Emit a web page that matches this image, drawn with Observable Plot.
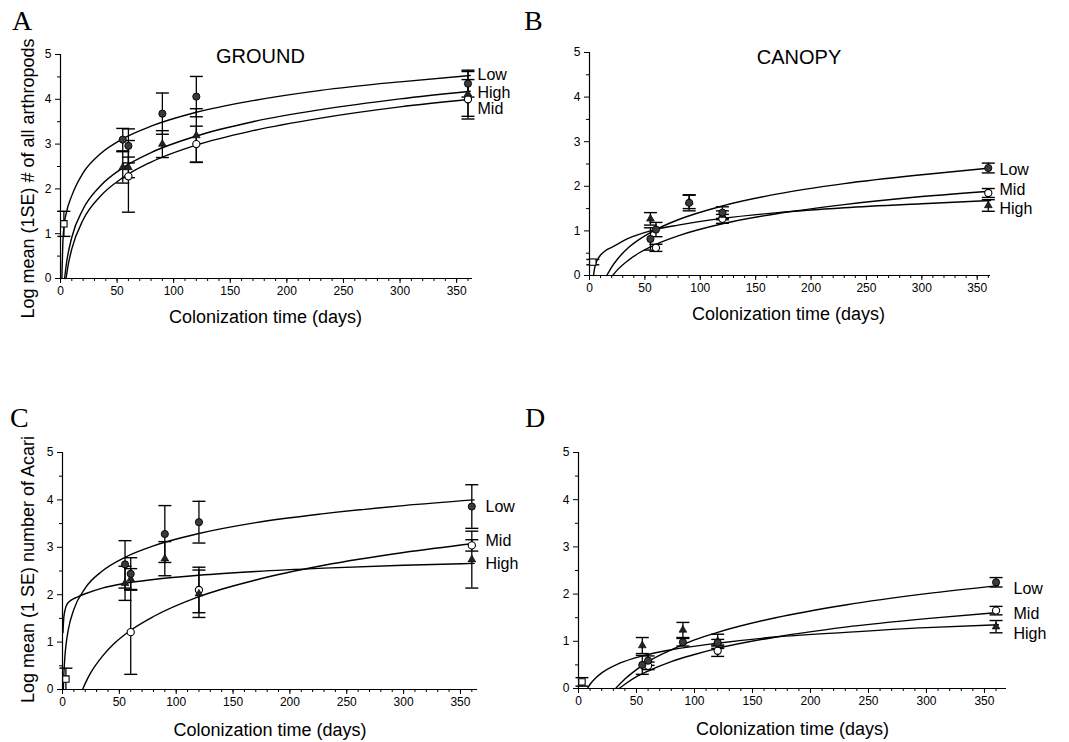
<!DOCTYPE html>
<html>
<head>
<meta charset="utf-8">
<script src="https://cdn.jsdelivr.net/npm/d3@7"></script>
<script src="https://cdn.jsdelivr.net/npm/@observablehq/plot@0.6"></script>
<style>
  body { margin: 0; background: #fff; }
  #root { position: relative; width: 1069px; height: 742px; overflow: hidden; background: #fff;
          font-family: "Liberation Sans", Arial, sans-serif; }
  .panel { position: absolute; }
  .letter { position: absolute; font-family: "Liberation Serif", "Times New Roman", serif;
            font-size: 28px; line-height: 28px; color: #000; }
</style>
</head>
<body>
<div id="root"></div>
<script>
// ---------------- data ----------------
const days = [55, 60, 90, 120, 360];
const startDay = 3;
const seriesNames = ["Low", "Mid", "High"];
const xTicks = [0, 50, 100, 150, 200, 250, 300, 350];
const xMinorTicks = [0, 10, 20, 30, 40, 50, 60, 70, 80, 90, 100, 110, 120, 130, 140, 150, 160, 170, 180,
  190, 200, 210, 220, 230, 240, 250, 260, 270, 280, 290, 300, 310, 320, 330, 340, 350, 360];
const yTicks = [0, 1, 2, 3, 4, 5];
const yMinorTicks = [0.5, 1.5, 2.5, 3.5, 4.5];
const xLabel = "Colonization time (days)";

// Panel A – GROUND, all arthropods
const aLow = [3.10, 2.96, 3.68, 4.06, 4.35];
const aLowSE = [0.25, 0.38, 0.46, 0.45, 0.30];
const aMid = [null, 2.28, null, 3.00, 4.00];
const aMidSE = [null, 0.80, null, 0.40, 0.44];
const aHigh = [2.48, 2.48, 3.00, 3.19, 4.12];
const aHighSE = [0.35, 0.23, 0.30, 0.60, 0.50];
const aStart = 1.22, aStartSE = 0.28;
const aLowFitX = [1.2, 2, 3, 5, 10, 20, 35, 55, 80, 120, 170, 230, 300, 362];
const aLowFitY = [0, 0.75, 1.15, 1.45, 1.85, 2.36, 2.78, 3.12, 3.40, 3.71, 3.97, 4.20, 4.39, 4.53];
const aMidFitX = [4.9, 7, 10, 20, 35, 55, 80, 120, 170, 230, 300, 362];
const aMidFitY = [0, 0.33, 0.66, 1.31, 1.83, 2.25, 2.60, 2.98, 3.30, 3.58, 3.83, 4.00];
const aHighFitX = [3.64, 5, 10, 20, 35, 55, 80, 120, 170, 230, 300, 362];
const aHighFitY = [0, 0.29, 0.92, 1.55, 2.06, 2.47, 2.81, 3.18, 3.50, 3.77, 4.01, 4.18];
const aLabelY = [4.55, 3.79, 4.14];

// Panel B – CANOPY, all arthropods
const bLow = [0.82, 1.03, 1.63, 1.41, 2.41];
const bLowSE = [0.25, 0.16, 0.18, 0.13, 0.11];
const bMid = [null, 0.62, null, 1.27, 1.85];
const bMidSE = [null, 0.08, null, 0.10, 0.10];
const bHigh = [1.27, null, 1.65, 1.35, 1.57];
const bHighSE = [0.14, null, 0.15, 0.10, 0.13];
const bStart = 0.30, bStartSE = 0.06;
const bLowFitX = [15.6, 20, 25, 35, 45, 60, 80, 120, 170, 230, 300, 362];
const bLowFitY = [0, 0.19, 0.36, 0.62, 0.81, 1.03, 1.25, 1.56, 1.83, 2.06, 2.26, 2.41];
const bMidFitX = [20.9, 25, 35, 45, 60, 80, 120, 170, 230, 300, 362];
const bMidFitY = [0, 0.12, 0.34, 0.51, 0.70, 0.89, 1.16, 1.39, 1.59, 1.77, 1.89];
const bHighFitX = [3.6, 4.5, 6, 8, 10, 14, 20, 35, 55, 80, 120, 170, 230, 300, 362];
const bHighFitY = [0, 0.15, 0.29, 0.39, 0.46, 0.55, 0.63, 0.83, 1.00, 1.13, 1.28, 1.41, 1.52, 1.61, 1.68];
const bLabelY = [2.36, 1.91, 1.50];

// Panel C – Acari, ground
const cLow = [2.64, 2.44, 3.28, 3.53, 3.86];
const cLowSE = [0.50, 0.34, 0.60, 0.44, 0.46];
const cMid = [null, 1.21, null, 2.10, 3.04];
const cMidSE = [null, 0.89, null, 0.48, 0.12];
const cHigh = [2.24, 2.33, 2.76, 2.02, 2.74];
const cHighSE = [0.36, 0.22, 0.36, 0.50, 0.60];
const cStart = 0.22, cStartSE = 0.23;
const cLowFitX = [0.72, 1, 2, 3, 5, 10, 20, 35, 55, 80, 120, 170, 230, 300, 362];
const cLowFitY = [0, 0.21, 0.66, 0.92, 1.25, 1.69, 2.14, 2.50, 2.79, 3.03, 3.29, 3.52, 3.71, 3.88, 4.00];
const cMidFitX = [17.6, 20, 25, 35, 45, 60, 80, 120, 170, 230, 300, 362];
const cMidFitY = [0, 0.13, 0.36, 0.70, 0.96, 1.25, 1.54, 1.96, 2.31, 2.62, 2.89, 3.08];
const cHighFitX = [0.4, 1.2, 2.5, 4, 8, 13, 20, 35, 55, 80, 120, 170, 230, 300, 362];
const cHighFitY = [1.20, 1.53, 1.70, 1.80, 1.89, 1.95, 2.02, 2.14, 2.24, 2.32, 2.41, 2.49, 2.56, 2.62, 2.66];
const cLabelY = [3.86, 3.13, 2.64];

// Panel D – Acari, canopy
const dLow = [0.50, 0.59, 0.98, 0.97, 2.25];
const dLowSE = [0.20, 0.10, 0.08, 0.07, 0.10];
const dMid = [null, 0.48, null, 0.80, 1.65];
const dMidSE = [null, 0.08, null, 0.12, 0.09];
const dHigh = [0.91, null, 1.24, 1.00, 1.31];
const dHighSE = [0.17, null, 0.16, 0.15, 0.13];
const dStart = 0.14, dStartSE = 0.09;
const dLowFitX = [32, 40, 50, 60, 80, 100, 120, 170, 230, 300, 362];
const dLowFitY = [0, 0.20, 0.40, 0.57, 0.82, 1.03, 1.19, 1.50, 1.77, 2.01, 2.18];
const dMidFitX = [35, 40, 50, 60, 80, 100, 120, 170, 230, 300, 362];
const dMidFitY = [0, 0.09, 0.25, 0.37, 0.57, 0.72, 0.85, 1.09, 1.30, 1.48, 1.61];
const dHighFitX = [7.7, 10, 15, 20, 35, 55, 80, 120, 170, 230, 300, 362];
const dHighFitY = [0, 0.09, 0.23, 0.33, 0.53, 0.69, 0.82, 0.96, 1.09, 1.19, 1.29, 1.35];
const dLabelY = [2.11, 1.58, 1.16];

// ---------------- helpers ----------------
function pts(vals, se) {
  return days.map((d, i) => vals[i] == null ? null :
    {day: d, v: vals[i], lo: Math.max(0, vals[i] - se[i]), hi: vals[i] + se[i]}).filter(Boolean);
}
function fit(xs, ys, name) { return xs.map((x, i) => ({x, y: ys[i], series: name})); }

const capSymbol = {
  draw(context, size) {
    const w = Math.sqrt(size / Math.PI);
    context.moveTo(-w, 0);
    context.lineTo(w, 0);
  }
};
const intFmt = d => String(d);

function panel(c) {
  const low = pts(c.low, c.lowSE), mid = pts(c.mid, c.midSE), high = pts(c.high, c.highSE);
  const start = [{day: startDay, v: c.start, lo: Math.max(0, c.start - c.startSE), hi: c.start + c.startSE}];
  const all = [...low, ...mid, ...high, ...start];
  const caps = all.flatMap(d => [{day: d.day, v: d.hi}, ...(d.lo > 0 ? [{day: d.day, v: d.lo}] : [])]);
  const fits = [...fit(c.lowFitX, c.lowFitY, "Low"), ...fit(c.midFitX, c.midFitY, "Mid"), ...fit(c.highFitX, c.highFitY, "High")];
  const marks = [
    Plot.axisX({ticks: xMinorTicks, tickSize: 3, tickFormat: () => "", label: null}),
    Plot.axisY({ticks: yMinorTicks, tickSize: 3, tickFormat: () => "", label: null}),
    Plot.axisX({ticks: xTicks, tickSize: 5, tickPadding: 3, tickFormat: intFmt, fontSize: 12, label: null}),
    Plot.axisY({ticks: yTicks, tickSize: 5, tickPadding: 4, tickFormat: intFmt, fontSize: 12, label: null}),
    Plot.ruleY([0], {stroke: "black", strokeWidth: 1.2}),
    Plot.ruleX([0], {stroke: "black", strokeWidth: 1.2}),
    Plot.line(fits, {x: "x", y: "y", z: "series", curve: "monotone-x", stroke: "black", strokeWidth: 1.4}),
    Plot.ruleX(all, {x: "day", y1: "lo", y2: "hi", stroke: "black", strokeWidth: 1.3}),
    Plot.dot(caps, {x: "day", y: "v", symbol: capSymbol, r: 6.5, fill: "none", stroke: "black", strokeWidth: 1.4}),
    Plot.dot(start, {x: "day", y: "v", symbol: "square", r: 3.6, fill: "white", stroke: "black", strokeWidth: 1.1}),
    Plot.dot(mid, {x: "day", y: "v", symbol: "circle", r: 3.6, fill: "white", stroke: "black", strokeWidth: 1.1}),
    Plot.dot(high, {x: "day", y: "v", symbol: "triangle", r: 2.9, fill: "#222", stroke: "#000", strokeWidth: 0.6}),
    Plot.dot(low, {x: "day", y: "v", symbol: "circle", r: 3.6, fill: "#3a3a3a", stroke: "#000", strokeWidth: 0.9}),
    Plot.text(seriesNames, {y: (d, i) => c.labelY[i], text: d => d, frameAnchor: "right", textAnchor: "start",
      dx: c.labelDx, fontSize: 16}),
    Plot.text([xLabel], {frameAnchor: "bottom", text: d => d, lineAnchor: "middle", dx: c.xlDx, dy: c.xlDy, fontSize: 18})
  ];
  if (c.title) marks.push(Plot.text([c.title], {frameAnchor: "top", text: d => d, lineAnchor: "middle",
    dx: c.titleDx, dy: c.titleDy, fontSize: 20}));
  if (c.ylabel) marks.push(Plot.text([c.ylabel], {frameAnchor: "left", text: d => d, rotate: -90,
    textAnchor: "middle", lineAnchor: "middle", dx: c.ylDx, dy: c.ylDy, fontSize: 18}));
  return Plot.plot({
    width: c.width, height: c.height,
    marginTop: c.mt, marginRight: c.mr, marginBottom: c.mb, marginLeft: c.ml,
    x: {domain: [0, c.xMax]},
    y: {domain: [0, 5]},
    style: {fontFamily: "'Liberation Sans', Arial, sans-serif", fontSize: "12px", color: "black",
      background: "transparent", overflow: "visible"},
    marks
  });
}

const root = document.getElementById("root");
function place(node, left, top, w, h) {
  const div = document.createElement("div");
  div.className = "panel";
  div.style.left = left + "px"; div.style.top = top + "px";
  div.style.width = w + "px"; div.style.height = h + "px";
  div.appendChild(node);
  root.appendChild(div);
}
function letter(t, left, top) {
  const div = document.createElement("div");
  div.className = "letter";
  div.style.left = left + "px"; div.style.top = top + "px";
  div.textContent = t;
  root.appendChild(div);
}

place(panel({
  low: aLow, lowSE: aLowSE, mid: aMid, midSE: aMidSE, high: aHigh, highSE: aHighSE, start: aStart, startSE: aStartSE,
  lowFitX: aLowFitX, lowFitY: aLowFitY, midFitX: aMidFitX, midFitY: aMidFitY, highFitX: aHighFitX, highFitY: aHighFitY,
  labelY: aLabelY, labelDx: 5, title: "GROUND", titleDx: -6, titleDy: 2,
  ylabel: "Log mean (1SE) # of all arthropods", ylDx: -32, ylDy: 12, xlDx: -1, xlDy: 39,
  width: 530, height: 340, mt: 54, mr: 58, mb: 62, ml: 60, xMax: 364
}), 0, 0, 530, 340);

place(panel({
  low: bLow, lowSE: bLowSE, mid: bMid, midSE: bMidSE, high: bHigh, highSE: bHighSE, start: bStart, startSE: bStartSE,
  lowFitX: bLowFitX, lowFitY: bLowFitY, midFitX: bMidFitX, midFitY: bMidFitY, highFitX: bHighFitX, highFitY: bHighFitY,
  labelY: bLabelY, labelDx: 9, title: "CANOPY", titleDx: 9, titleDy: 5, xlDx: -1.5, xlDy: 39,
  width: 539, height: 340, mt: 52, mr: 79, mb: 65, ml: 59, xMax: 362
}), 530, 0, 539, 340);

place(panel({
  low: cLow, lowSE: cLowSE, mid: cMid, midSE: cMidSE, high: cHigh, highSE: cHighSE, start: cStart, startSE: cStartSE,
  lowFitX: cLowFitX, lowFitY: cLowFitY, midFitX: cMidFitX, midFitY: cMidFitY, highFitX: cHighFitX, highFitY: cHighFitY,
  labelY: cLabelY, labelDx: 8,
  ylabel: "Log mean (1 SE) number of Acari", ylDx: -34, ylDy: -1.5, xlDx: 0, xlDy: 41,
  width: 530, height: 342, mt: 52, mr: 53, mb: 53, ml: 62, xMax: 365
}), 0, 400, 530, 342);

place(panel({
  low: dLow, lowSE: dLowSE, mid: dMid, midSE: dMidSE, high: dHigh, highSE: dHighSE, start: dStart, startSE: dStartSE,
  lowFitX: dLowFitX, lowFitY: dLowFitY, midFitX: dMidFitX, midFitY: dMidFitY, highFitX: dHighFitX, highFitY: dHighFitY,
  labelY: dLabelY, labelDx: 7, xlDx: 0, xlDy: 41,
  width: 539, height: 342, mt: 52, mr: 63, mb: 54, ml: 48, xMax: 369
}), 530, 400, 539, 342);

letter("A", 12, 7);
letter("B", 524, 7);
letter("C", 10, 404);
letter("D", 525, 404);
</script>
</body>
</html>
